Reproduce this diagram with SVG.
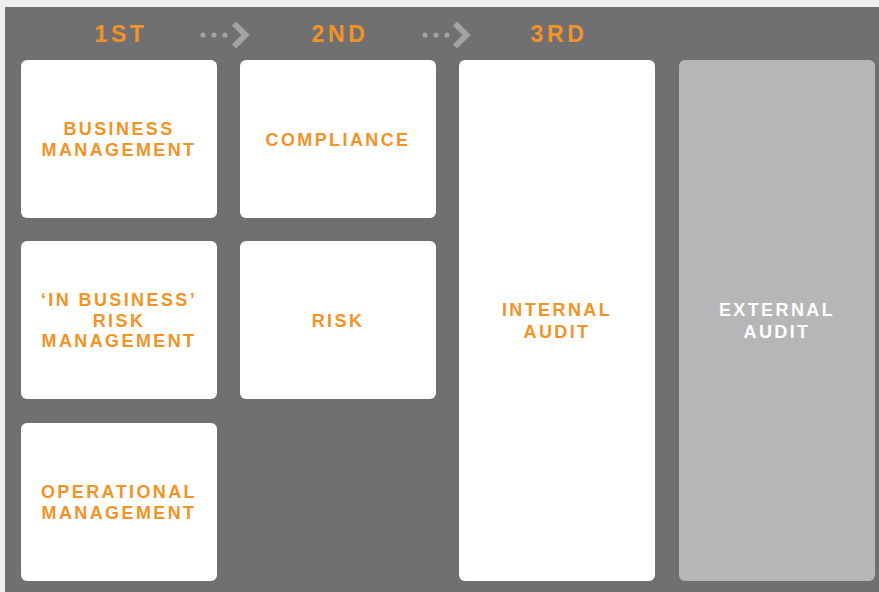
<svg xmlns="http://www.w3.org/2000/svg" width="879" height="592" viewBox="0 0 879 592">
  <style>
    .panel { fill: #707072; }
    .box { fill: #ffffff; }
    .box-ext { fill: #b6b6b8; }
    .lbl { font-family: "Liberation Sans", Arial, sans-serif; font-weight: bold; font-size: 18px; letter-spacing: 2.4px; fill: #f39325; text-anchor: middle; }
    .lbl-w { fill: #ffffff; }
    .head { font-family: "Liberation Sans", Arial, sans-serif; font-weight: bold; font-size: 23px; letter-spacing: 3.6px; fill: #f39325; text-anchor: middle; }
    .dot { fill: #a2a2a4; }
    .chev { fill: none; stroke: #a2a2a4; stroke-width: 6; stroke-linejoin: miter; }
  </style>
  <rect x="0" y="0" width="879" height="592" fill="#efefef"/>
  <rect class="panel" x="5" y="7" width="874" height="585"/>

  <!-- line headings -->
  <g id="heading-1st"><text class="head" x="121" y="42">1ST</text></g>
  <g id="heading-2nd"><text class="head" x="340" y="42">2ND</text></g>
  <g id="heading-3rd"><text class="head" x="559" y="42">3RD</text></g>

  <!-- dotted arrows between headings -->
  <g id="connectors">
    <g>
      <circle class="dot" cx="203" cy="35" r="2.6"/>
      <circle class="dot" cx="214" cy="35" r="2.6"/>
      <circle class="dot" cx="225" cy="35" r="2.6"/>
      <polyline class="chev" points="234,23.5 245.5,35 234,46.5"/>
    </g>
    <g>
      <circle class="dot" cx="425" cy="35" r="2.6"/>
      <circle class="dot" cx="436" cy="35" r="2.6"/>
      <circle class="dot" cx="447" cy="35" r="2.6"/>
      <polyline class="chev" points="455,23.5 466.5,35 455,46.5"/>
    </g>
  </g>

  <!-- first line -->
  <g id="business-management">
    <rect class="box" x="21" y="60" width="196" height="158" rx="6"/>
    <text class="lbl" x="119" y="135">BUSINESS</text>
    <text class="lbl" x="119" y="156">MANAGEMENT</text>
  </g>
  <g id="in-business-risk-management">
    <rect class="box" x="21" y="241" width="196" height="158" rx="6"/>
    <text class="lbl" x="119" y="306">‘IN BUSINESS’</text>
    <text class="lbl" x="119" y="327">RISK</text>
    <text class="lbl" x="119" y="347">MANAGEMENT</text>
  </g>
  <g id="operational-management">
    <rect class="box" x="21" y="423" width="196" height="158" rx="6"/>
    <text class="lbl" x="119" y="498">OPERATIONAL</text>
    <text class="lbl" x="119" y="519">MANAGEMENT</text>
  </g>

  <!-- second line -->
  <g id="compliance">
    <rect class="box" x="240" y="60" width="196" height="158" rx="6"/>
    <text class="lbl" x="338" y="146">COMPLIANCE</text>
  </g>
  <g id="risk">
    <rect class="box" x="240" y="241" width="196" height="158" rx="6"/>
    <text class="lbl" x="338" y="327">RISK</text>
  </g>

  <!-- third line -->
  <g id="internal-audit">
    <rect class="box" x="459" y="60" width="196" height="521" rx="6"/>
    <text class="lbl" x="557" y="316">INTERNAL</text>
    <text class="lbl" x="557" y="338">AUDIT</text>
  </g>

  <!-- outside -->
  <g id="external-audit">
    <rect class="box-ext" x="679" y="60" width="196" height="521" rx="6"/>
    <text class="lbl lbl-w" x="777" y="316">EXTERNAL</text>
    <text class="lbl lbl-w" x="777" y="338">AUDIT</text>
  </g>
</svg>
